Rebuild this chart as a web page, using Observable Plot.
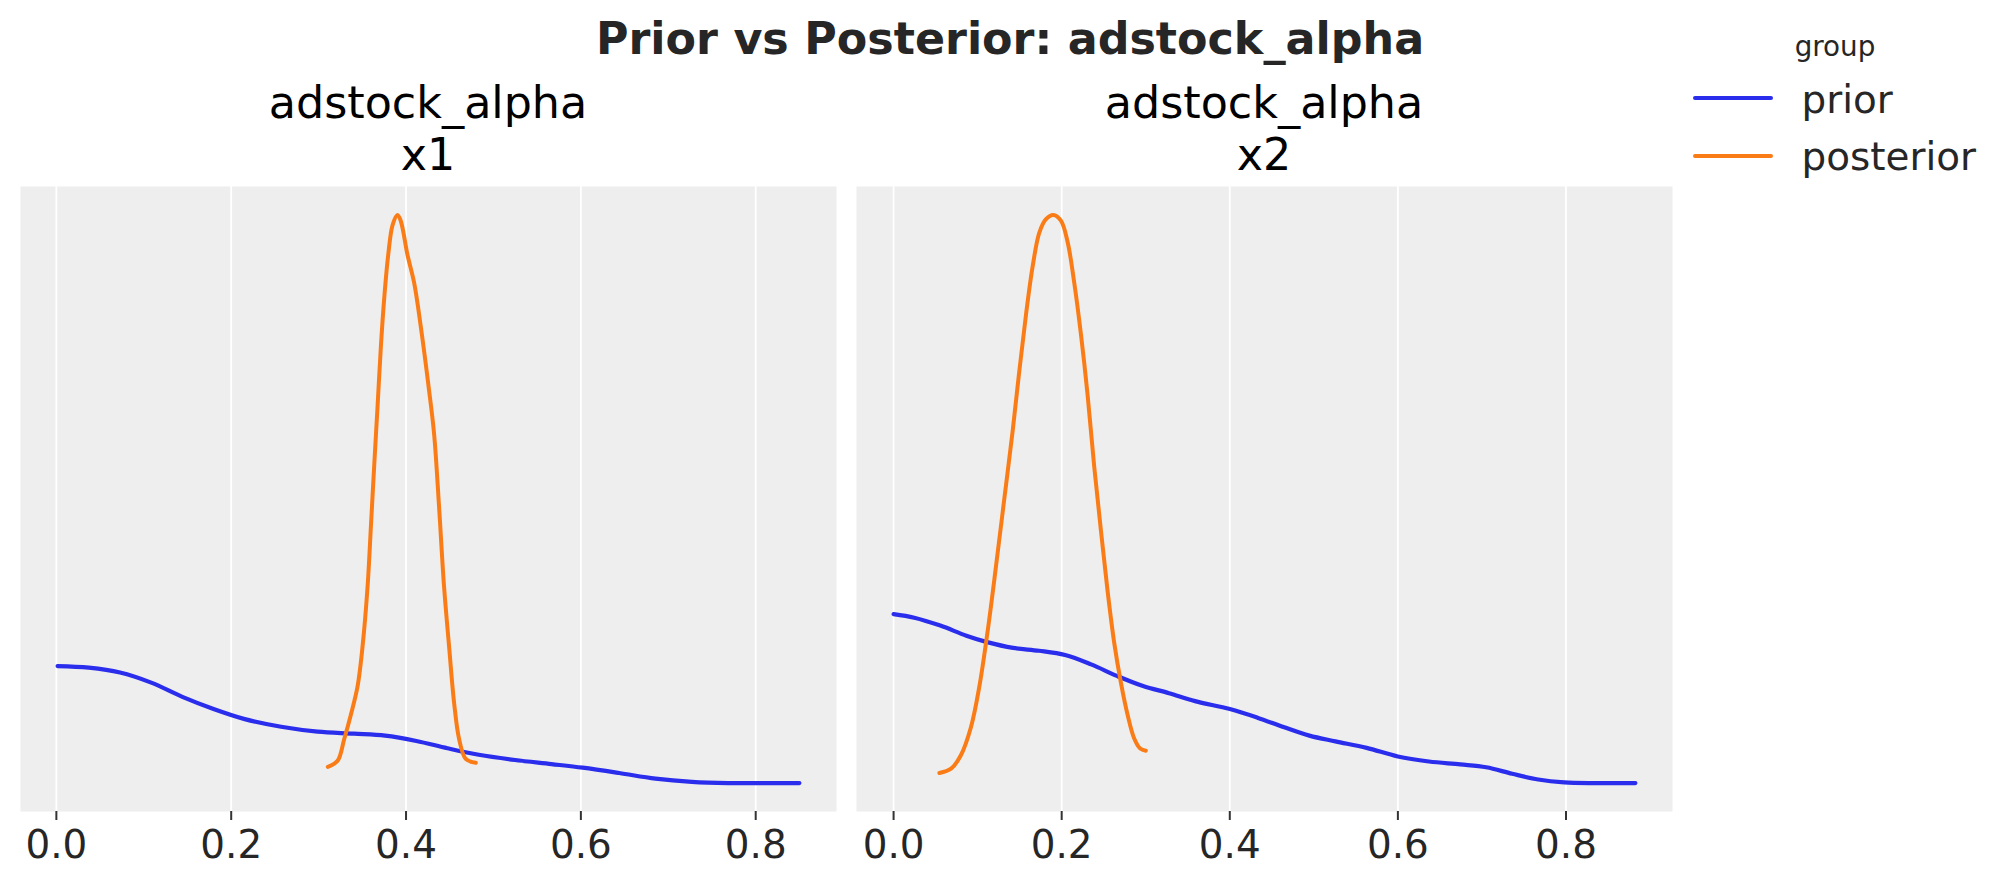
<!DOCTYPE html>
<html>
<head>
<meta charset="utf-8">
<script src="https://cdn.jsdelivr.net/npm/d3@7"></script>
<script src="https://cdn.jsdelivr.net/npm/@observablehq/plot@0.6"></script>
<style>
  html, body { margin: 0; padding: 0; background: #fff; }
  #page { position: relative; width: 2012px; height: 887px; font-family: "DejaVu Sans", sans-serif; overflow: hidden; }
  .t { position: absolute; white-space: nowrap; line-height: normal; }
  .legline { position: absolute; height: 3.8px; border-radius: 2px; }
</style>
</head>
<body>
<div id="page"></div>
<script>
// ---- data ----
const chartTitle = "Prior vs Posterior: adstock_alpha";
const panelTitles = ["adstock_alpha", "adstock_alpha"];
const panelChannels = ["x1", "x2"];
const groups = ["prior", "posterior"];
const groupColors = ["#2a2eec", "#fa7c17"];
const legendTitle = "group";
const xTicks = [0.0, 0.2, 0.4, 0.6, 0.8];

// x1 prior
const x1PriorX = [0.0014, 0.0371, 0.0728, 0.1085, 0.1441, 0.1798, 0.2155, 0.2571, 0.2988, 0.3404, 0.3761, 0.4118, 0.4474, 0.4832, 0.5248, 0.5664, 0.6021, 0.6438, 0.6854, 0.7270, 0.7686, 0.8103, 0.850];
const x1PriorDensity = [2.94, 2.90, 2.78, 2.53, 2.18, 1.88, 1.63, 1.44, 1.32, 1.27, 1.22, 1.09, 0.91, 0.75, 0.62, 0.52, 0.43, 0.30, 0.16, 0.08, 0.05, 0.05, 0.05];
// x1 posterior
const x1PostX = [0.3105, 0.3217, 0.3293, 0.3369, 0.3445, 0.3502, 0.356, 0.3598, 0.3635, 0.3674, 0.3712, 0.375, 0.3796, 0.3846, 0.3903, 0.394, 0.4017, 0.4093, 0.4169, 0.4264, 0.4322, 0.4378, 0.4435, 0.4493, 0.455, 0.4607, 0.4683, 0.4798];
const x1PostDensity = [0.45, 0.60, 1.14, 1.74, 2.43, 3.41, 4.90, 6.38, 7.86, 9.34, 10.82, 12.01, 13.09, 13.83, 14.08, 13.93, 13.09, 12.40, 11.32, 9.74, 8.65, 6.87, 4.90, 3.41, 2.03, 1.14, 0.65, 0.55];
// x2 prior
const x2PriorX = [0.0, 0.0246, 0.0556, 0.0866, 0.1113, 0.1422, 0.1731, 0.2041, 0.235, 0.2659, 0.2968, 0.3277, 0.3587, 0.4001, 0.4329, 0.4638, 0.4947, 0.5257, 0.5628, 0.5999, 0.637, 0.6742, 0.7051, 0.736, 0.767, 0.7979, 0.835, 0.8826];
const x2PriorDensity = [2.40, 2.35, 2.24, 2.10, 2.01, 1.93, 1.89, 1.83, 1.70, 1.54, 1.40, 1.30, 1.19, 1.08, 0.96, 0.83, 0.71, 0.63, 0.54, 0.42, 0.35, 0.31, 0.27, 0.18, 0.10, 0.06, 0.05, 0.05];
// x2 posterior
const x2PostX = [0.0545, 0.0684, 0.0802, 0.0921, 0.102, 0.112, 0.1218, 0.1317, 0.1417, 0.1496, 0.1575, 0.1654, 0.1733, 0.1813, 0.19, 0.1991, 0.2071, 0.2149, 0.2229, 0.2308, 0.2387, 0.2467, 0.2546, 0.2625, 0.2704, 0.2784, 0.2863, 0.2934, 0.3001];
const x2PostDensity = [0.19, 0.25, 0.44, 0.83, 1.39, 2.17, 3.06, 4.00, 4.95, 5.78, 6.56, 7.23, 7.70, 7.89, 7.95, 7.87, 7.57, 7.01, 6.29, 5.45, 4.45, 3.56, 2.72, 2.00, 1.45, 1.00, 0.67, 0.53, 0.50];

const toRows = (xs, ys) => xs.map((x, i) => ({x, y: ys[i]}));
const panels = [
  {left: 0, series: [toRows(x1PriorX, x1PriorDensity), toRows(x1PostX, x1PostDensity)]},
  {left: 836, series: [toRows(x2PriorX, x2PriorDensity), toRows(x2PostX, x2PostDensity)]}
];

const page = document.getElementById("page");
function addText(txt, opts) {
  const d = document.createElement("div");
  d.className = "t";
  d.textContent = txt;
  Object.assign(d.style, opts);
  page.appendChild(d);
  return d;
}

// Titles (top = baseline - 0.928em for DejaVu Sans)
addText(chartTitle, {left: "1010px", top: "12.9px", transform: "translateX(-50%)", fontSize: "44.4px", fontWeight: "bold", color: "#262626"});
const centers = [428, 1264];
centers.forEach((c, i) => {
  addText(panelTitles[i], {left: c + "px", top: "77.1px", transform: "translateX(-50%)", fontSize: "44.4px", color: "#000"});
  addText(panelChannels[i], {left: c + "px", top: "128.8px", transform: "translateX(-50%)", fontSize: "44.4px", color: "#000"});
});

// Legend
addText(legendTitle, {left: "1835px", top: "30.2px", transform: "translateX(-50%)", fontSize: "27.8px", color: "#262626"});
const legY = [98, 155.7];
groups.forEach((g, i) => {
  const l = document.createElement("div");
  l.className = "legline";
  Object.assign(l.style, {left: "1692.7px", width: "80.6px", top: (legY[i] - 1.9) + "px", background: groupColors[i]});
  page.appendChild(l);
  addText(g, {left: "1801.5px", top: (legY[i] + 14.7 - 36.1) + "px", fontSize: "38.9px", color: "#262626"});
});

// Panels
panels.forEach(p => {
  const all = p.series.flat();
  const [xa, xb] = d3.extent(all, d => d.x);
  const [ya, yb] = d3.extent(all, d => d.y);
  const xm = (xb - xa) * 0.05, ym = (yb - ya) * 0.05;
  const chart = Plot.plot({
    width: 846,
    height: 695,
    marginLeft: 20,
    marginRight: 10,
    marginTop: 0,
    marginBottom: 70,
    x: {domain: [xa - xm, xb + xm], axis: null, label: null},
    y: {domain: [ya - ym, yb + ym], axis: null, label: null},
    style: {fontFamily: "DejaVu Sans", fontSize: "38.9px", background: "transparent", overflow: "visible", color: "#262626"},
    marks: [
      Plot.frame({fill: "#eeeeee", stroke: "none"}),
      Plot.gridX({ticks: xTicks, stroke: "white", strokeOpacity: 1, strokeWidth: 1.8}),
      Plot.axisX({ticks: xTicks, tickFormat: d3.format(".1f"), label: null, tickSize: 9, tickPadding: 10, stroke: "#333", strokeWidth: 2, fill: "#262626", fontSize: 38.9}),
      ...p.series.map((rows, i) => Plot.line(rows, {x: "x", y: "y", stroke: groupColors[i], strokeWidth: i === 0 ? 4.2 : 4.0, curve: "catmull-rom"}))
    ]
  });
  const wrap = document.createElement("div");
  Object.assign(wrap.style, {position: "absolute", left: p.left + "px", top: "186px"});
  wrap.appendChild(chart);
  page.appendChild(wrap);
});
</script>
</body>
</html>
